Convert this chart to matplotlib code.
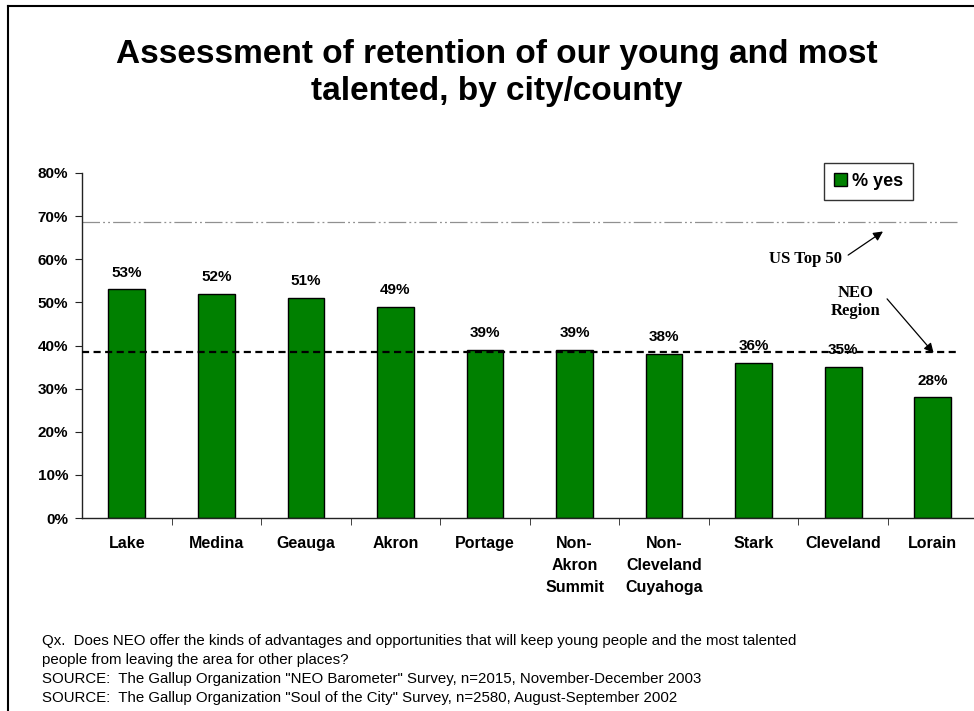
import matplotlib.pyplot as plt
from matplotlib.lines import Line2D

plt.rcParams['font.family'] = ['Liberation Sans', 'DejaVu Sans']

# survey results by city / county
places = ['Lake', 'Medina', 'Geauga', 'Akron', 'Portage', 'Non-\nAkron\nSummit',
          'Non-\nCleveland\nCuyahoga', 'Stark', 'Cleveland', 'Lorain']
pct_yes = [53, 52, 51, 49, 39, 39, 38, 36, 35, 28]
us_top50 = 68.7
neo_region = 38.5

title = 'Assessment of retention of our young and most\ntalented, by city/county'
notes = ['Qx.  Does NEO offer the kinds of advantages and opportunities that will keep young people and the most talented',
         'people from leaving the area for other places?',
         'SOURCE:  The Gallup Organization "NEO Barometer" Survey, n=2015, November-December 2003',
         'SOURCE:  The Gallup Organization "Soul of the City" Survey, n=2580, August-September 2002']

W, H = 974, 711
fig = plt.figure(figsize=(W / 100, H / 100), dpi=100)

# axes box in pixels: x from 82 to 977, y from 173 (top) to 518 (bottom)
ax = fig.add_axes([82 / W, 1 - 518 / H, (977.5 - 82) / W, (518 - 173) / H])

x = list(range(len(places)))
bars = ax.bar(x, pct_yes, width=0.41, color='#008000', edgecolor='black',
              linewidth=1, label='% yes', zorder=2)

for xi, v in zip(x, pct_yes):
    ax.annotate(f'{v}%', (xi, v), xytext=(0, 7), textcoords='offset points',
                ha='center', va='bottom', fontsize=11, fontweight='bold')

ax.set_xlim(-0.5, len(places) - 0.5)
ax.set_ylim(0, 80)
ax.set_yticks(range(0, 81, 10))
ax.set_yticklabels([f'{t}%' for t in range(0, 81, 10)], fontsize=11, fontweight='bold')
ax.set_xticks(x)
ax.set_xticklabels(places, fontsize=11.5, fontweight='bold', linespacing=1.6)
ax.set_xticks([i + 0.5 for i in x[:-1]], minor=True)
ax.tick_params(axis='x', which='major', length=0, pad=13)
ax.tick_params(axis='x', which='minor', length=5, direction='out', color='#222222')
ax.tick_params(axis='y', length=5, direction='out', pad=5, color='#222222')

for side in ['top', 'right']:
    ax.spines[side].set_visible(False)
for side in ['left', 'bottom']:
    ax.spines[side].set_color('#222222')
    ax.spines[side].set_linewidth(1)

# reference lines
ax.axhline(us_top50, xmin=0, xmax=0.98, color='#909090', lw=0.9,
           dashes=(14, 2.5, 1.5, 2.5, 1.5, 2.5), zorder=1)
ax.axhline(neo_region, xmin=0, xmax=0.98, color='black', lw=1.6,
           dashes=(3.2, 2), zorder=3)

ax.text(7.99, 60.1, 'US Top 50', ha='right', va='center', fontsize=12,
        fontweight='bold', family='Liberation Serif')
ax.annotate('', xy=(8.47, 66.8), xytext=(8.03, 60.6),
            arrowprops=dict(arrowstyle='-|>', color='black', lw=0.9, mutation_scale=14))
ax.text(8.14, 50.1, 'NEO\nRegion', ha='center', va='center', fontsize=12,
        fontweight='bold', family='Liberation Serif', linespacing=1.1)
ax.annotate('', xy=(9.03, 37.8), xytext=(8.47, 51.3),
            arrowprops=dict(arrowstyle='-|>', color='black', lw=0.9, mutation_scale=14))

leg = ax.legend(loc='upper left', bbox_to_anchor=(824 / W, 1 - 163 / H),
                bbox_transform=fig.transFigure, fancybox=False, frameon=True,
                prop={'weight': 'bold', 'size': 13}, handlelength=0.7,
                handleheight=0.7, handletextpad=0.3, borderpad=0.55,
                borderaxespad=0)
leg.get_frame().set_edgecolor('black')
leg.get_frame().set_linewidth(1)

fig.text(497 / W, 1 - 73 / H, title, ha='center', va='center', fontsize=24,
         fontweight='bold', linespacing=1.29)

for i, line in enumerate(notes):
    fig.text(42 / W, 1 - (641 + i * 19) / H, line, ha='left', va='center', fontsize=10.8)

# page frame on the left and top
fig.add_artist(Line2D([8 / W, 8 / W], [0, 1 - 6 / H], color='black', lw=1.5,
                      transform=fig.transFigure))
fig.add_artist(Line2D([8 / W, 1], [1 - 6 / H, 1 - 6 / H], color='black', lw=1.5,
                      transform=fig.transFigure))

fig.savefig('out.png', dpi=100)
